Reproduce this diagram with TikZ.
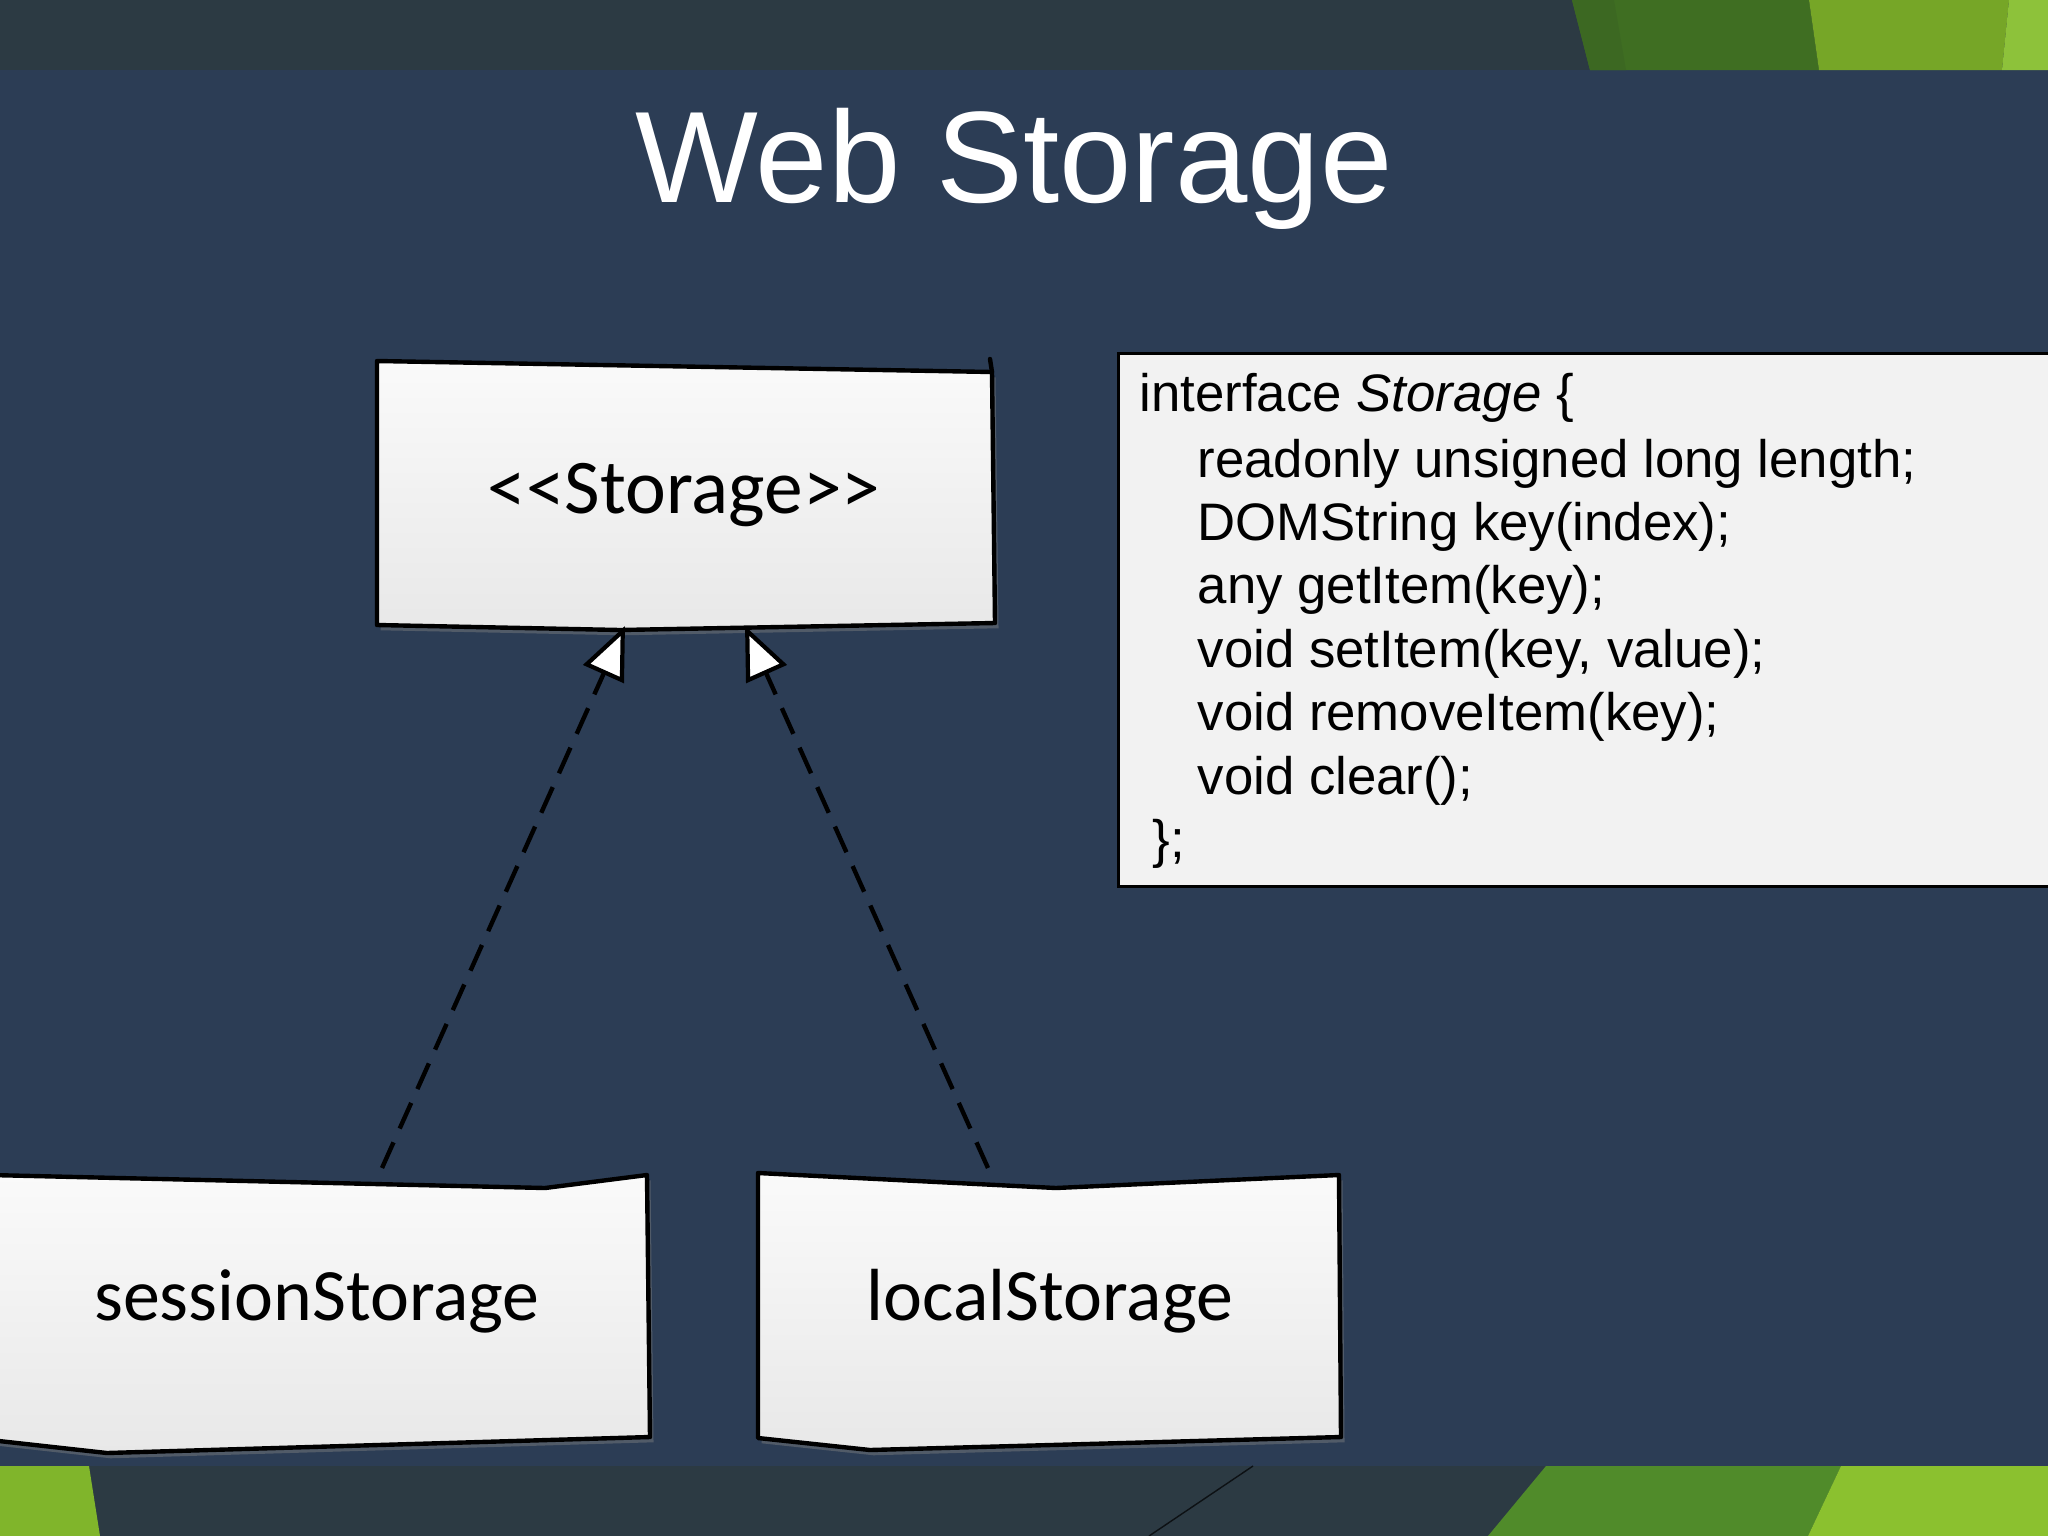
\documentclass[tikz,border=0pt]{standalone}
\usepackage{fontspec}
\setmainfont{Liberation Sans}
\newfontfamily\handfont{Carlito}
\usetikzlibrary{arrows.meta, positioning, calc, shadows}
\definecolor{slidenavy}{RGB}{44,61,85}
\definecolor{bandgray}{RGB}{44,58,67}
\definecolor{leafdark}{RGB}{63,110,34}
\definecolor{leafshade}{RGB}{60,104,34}
\definecolor{leafmid}{RGB}{118,166,39}
\definecolor{leaflight}{RGB}{141,194,58}
\definecolor{grassdark}{RGB}{80,139,42}
\definecolor{grasslight}{RGB}{139,193,47}
\definecolor{grassleft}{RGB}{128,181,43}
\definecolor{codepaper}{RGB}{242,242,242}

\begin{document}
\begin{tikzpicture}[x=0.01cm, y=-0.01cm,
    sketch/.style={draw=black, line width=1.25pt, line join=round,
                   top color=black!2, bottom color=black!9,
                   drop shadow={shadow xshift=1pt, shadow yshift=-1.5pt, opacity=0.45}},
    hand/.style={font=\handfont\fontsize{21}{25}\selectfont, text=black, anchor=base, inner sep=0pt},
    codeline/.style={font=\fontsize{15}{18}\selectfont, text=black, anchor=base west, inner sep=0pt},
    realize/.style={line width=1.25pt, dash pattern=on 8pt off 4.3pt,
                    -{Triangle[length=15pt, width=12.5pt, fill=white, line width=1.2pt]}}
  ]
  \useasboundingbox (0,0) rectangle (2048,1536);
  \clip (0,0) rectangle (2048,1536);

  % slide background
  \fill[slidenavy] (0,0) rectangle (2048,1536);
  \fill[bandgray] (0,0) rectangle (2048,70);
  \fill[bandgray] (0,1466) rectangle (2048,1536);
  \fill[leafdark] (1572,0) -- (1809,0) -- (1819,70) -- (1590,70) -- cycle;
  \fill[leafshade] (1572,0) -- (1614,0) -- (1626,70) -- (1590,70) -- cycle;
  \fill[leafmid] (1809,0) -- (2009,0) -- (2002,70) -- (1819,70) -- cycle;
  \fill[leaflight] (2009,0) -- (2048,0) -- (2048,70) -- (2002,70) -- cycle;
  \fill[grassleft] (0,1466) -- (89,1466) -- (100,1536) -- (0,1536) -- cycle;
  \fill[grassdark] (1546,1466) -- (1841,1466) -- (1808,1536) -- (1488,1536) -- cycle;
  \fill[grasslight] (1841,1466) -- (2048,1466) -- (2048,1536) -- (1808,1536) -- cycle;
  \draw[black!70!bandgray, line width=0.4pt] (1253,1466) -- (1149,1536);

  % title
  \node[font=\fontsize{37}{44}\selectfont, text=white, anchor=base] (title) at (1014,202) {Web Storage};

  % sketched boxes
  \path[sketch] (377,361) -- (992,372) -- (995,623) -- (620,630) -- (377,625) -- cycle;
  \draw[line width=1.25pt, line cap=round] (992,372) -- (990,359);
  \path[sketch] (-10,1175) -- (545,1188) -- (647,1175) -- (650,1437) -- (107,1453) -- (-10,1440) -- cycle;
  \path[sketch] (758,1173) -- (1056,1188) -- (1339,1175) -- (1341,1437) -- (870,1450) -- (758,1438) -- cycle;

  \node[hand, font=\handfont\fontsize{22}{26}\selectfont] (storage) at (684,513) {<<Storage>>};
  \node[hand] (session) at (317,1320) {sessionStorage};
  \node[hand] (local) at (1050,1320) {localStorage};

  % realization arrows
  \coordinate (session-top) at (382,1168);
  \coordinate (local-top) at (988,1168);
  \coordinate (storage-left) at (625,626);
  \coordinate (storage-right) at (745,626);
  \draw[realize] (session-top) -- (storage-left);
  \draw[realize] (local-top) -- (storage-right);

  % interface listing
  \node[draw=black, line width=0.85pt, fill=codepaper, anchor=north west,
        minimum width=9.6cm, minimum height=5.33cm, inner sep=0pt] (iface) at (1117,352) {};
  \node[codeline] (decl) at (1139,411) {interface \textit{Storage} \{};
  \foreach \member [count=\i from 0] in {{readonly unsigned long length;},
      {DOMString key(index);}, {any getItem(key);}, {void setItem(key, value);},
      {void removeItem(key);}, {void clear();}}
    \node[codeline] (member\i) at (1197,477+63.4*\i) {\member};
  \node[codeline] (close) at (1152,857) {\};};
\end{tikzpicture}
\end{document}
